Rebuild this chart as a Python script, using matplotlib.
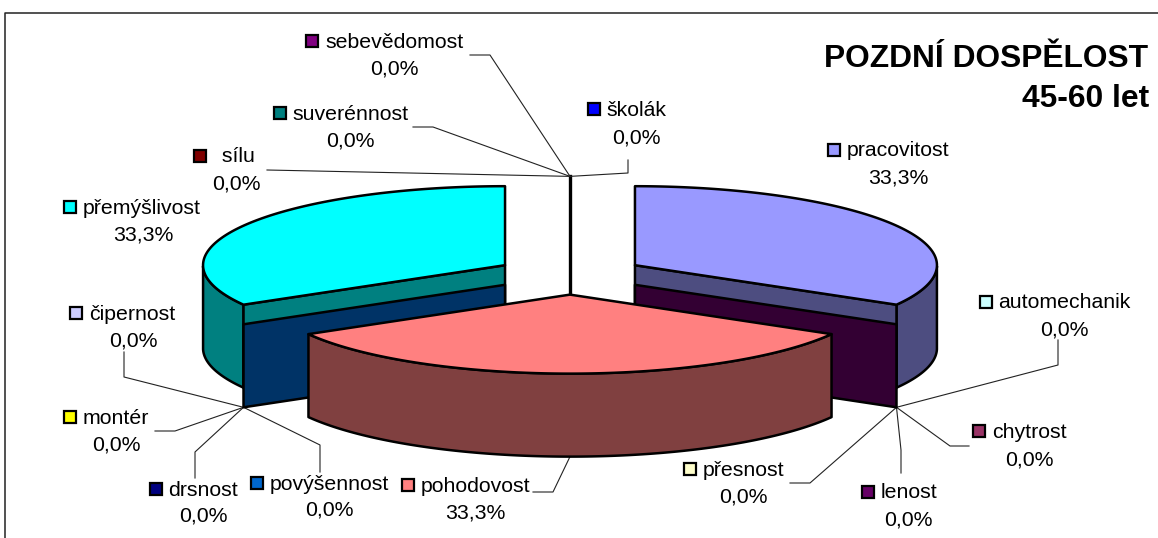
import numpy as np
import matplotlib
matplotlib.use("Agg")
import matplotlib.pyplot as plt
from matplotlib.colors import to_rgb
from matplotlib.patches import Rectangle

plt.rcParams['font.family'] = ['Liberation Sans', 'DejaVu Sans']

# data, clockwise from twelve o'clock
names = ["pracovitost", "automechanik", "chytrost", "lenost", "přesnost",
         "pohodovost", "povýšennost", "drsnost", "montér", "čipernost",
         "přemýšlivost", " sílu", "suverénnost", "sebevědomost", "školák"]
counts = [1, 0, 0, 0, 0, 1, 0, 0, 0, 0, 1, 0, 0, 0, 0]
pct_labels = ["33,3%", "0,0%", "0,0%", "0,0%", "0,0%",
              "33,3%", "0,0%", "0,0%", "0,0%", "0,0%",
              "33,3%", "0,0%", "0,0%", "0,0%", "0,0%"]
colors = ["#9999FF", "#CCFFFF", "#993366", "#660066", "#FFFFCC",
          "#FF8080", "#0066CC", "#000080", "#FFFF00", "#CCCCFF",
          "#00FFFF", "#800000", "#008080", "#800080", "#0000FF"]

# pie geometry in pixels
CX, CY = 570, 275
RX, RY = 302, 79
EXPLODE = 75
DEPTH = 83

# swatch x, name x, name y, percent x, percent y
label_pos = {
    "pracovitost": (834, 847, 151, 898, 178),
    "automechanik": (986, 998, 303, 1064, 330),
    "chytrost": (979, 992, 432, 1029, 460),
    "lenost": (868, 881, 493, 908, 520),
    "přesnost": (690, 703, 470, 743, 497),
    "pohodovost": (408, 421, 486, 475, 513),
    "povýšennost": (257, 270, 484, 329, 510),
    "drsnost": (156, 168, 490, 203, 516),
    "montér": (70, 83, 418, 116, 445),
    "čipernost": (76, 89, 314, 133, 341),
    "přemýšlivost": (70, 83, 208, 143, 235),
    " sílu": (200, 216, 157, 236, 184),
    "suverénnost": (280, 292, 114, 350, 141),
    "sebevědomost": (312, 325, 42, 394, 69),
    "školák": (594, 606, 110, 636, 138),
}

# leader lines, from the label towards the pie
leaders = {
    "automechanik": [(1058, 340), (1058, 365)],
    "chytrost": [(969, 446), (950, 446)],
    "lenost": [(901, 473), (901, 450)],
    "přesnost": [(790, 483), (810, 483)],
    "povýšennost": [(320, 472), (320, 445)],
    "drsnost": [(195, 478), (195, 452)],
    "montér": [(155, 431), (175, 431)],
    "čipernost": [(124, 352), (124, 377)],
    " sílu": [(267, 170)],
    "suverénnost": [(413, 127), (433, 127)],
    "sebevědomost": [(470, 55), (490, 55)],
    "školák": [(628, 160), (628, 173)],
}


def shade(c):
    return tuple(v * 0.5 for v in to_rgb(c))


def rim(a, ox, oy):
    a = np.radians(a)
    return ox + RX * np.sin(a), oy - RY * np.cos(a)


def offset(mid):
    a = np.radians(mid)
    return (CX + EXPLODE * np.sin(a),
            CY - EXPLODE * RY / RX * np.cos(a))


fig = plt.figure(figsize=(11.58, 5.38), dpi=100)
ax = fig.add_axes([0, 0, 1, 1])
ax.set_xlim(0, 1158)
ax.set_ylim(538, 0)
ax.axis('off')

# chart frame
ax.plot([5, 5, 1158], [538, 13, 13], color='#222222', lw=1.1, zorder=1)

total = sum(counts)
ends = np.cumsum(counts) / total * 360
starts = ends - np.array(counts) / total * 360
big = [i for i, v in enumerate(counts) if v > 0]

EDGE = dict(edgecolor='black', linewidth=1.8, joinstyle='round')


def hub(angle):
    ox, oy = offset(angle)
    x, y = rim(angle, ox, oy)
    return x, y + DEPTH


def radial_wall(angle, mid, color):
    ox, oy = offset(mid)
    x, y = rim(angle, ox, oy)
    ax.fill([ox, x, x, ox], [oy, y, y + DEPTH, oy + DEPTH],
            facecolor=color, zorder=3, **EDGE)


def draw_slice(i):
    s, e = starts[i], ends[i]
    mid = (s + e) / 2
    ox, oy = offset(mid)
    t = np.linspace(s, e, 120)
    x, y = rim(t, ox, oy)
    # outer wall, only where the rim faces the viewer
    vis = (t >= 90) & (t <= 270)
    if vis.any():
        ax.fill(np.r_[x[vis], x[vis][::-1]],
                np.r_[y[vis], y[vis][::-1] + DEPTH],
                facecolor=shade(colors[i]), zorder=3, **EDGE)
    # cut side, with the exploded empty slice in front of it
    if mid < 90:
        radial_wall(e, mid, shade(colors[i]))
        radial_wall(e, e, shade(colors[names.index("lenost")]))
    elif mid > 270:
        radial_wall(s, mid, shade(colors[i]))
        radial_wall(s, s, shade(colors[names.index("povýšennost")]))
    ax.fill(np.r_[ox, x], np.r_[oy, y], facecolor=colors[i], zorder=3, **EDGE)


# spoke of the empty slices at the back
ox, oy = offset(0)
bx, by = rim(0, ox, oy)
ax.plot([bx, bx], [by, offset(120)[1] + RY], color='black', lw=2.4, zorder=2)

for i in big[::-1]:
    if i != big[1]:
        draw_slice(i)

# front slice last, its wall is the closest thing
i = big[1]
s, e = starts[i], ends[i]
ox, oy = offset((s + e) / 2)
t = np.linspace(s, e, 160)
x, y = rim(t, ox, oy)
ax.fill(np.r_[x, x[::-1]], np.r_[y, y[::-1] + DEPTH],
        facecolor=shade(colors[i]), zorder=4, **EDGE)
ax.fill(np.r_[ox, x], np.r_[oy, y], facecolor=colors[i], zorder=4, **EDGE)
front_x, front_y = rim(180, ox, oy)

# where the leaders end
anchors = {}
for i, n in enumerate(names):
    if counts[i] == 0:
        a = round(starts[i])
        if a == 360 or a == 0:
            ox, oy = offset(0)
            anchors[n] = rim(0, ox, oy)
        else:
            anchors[n] = hub(a)

for n, pts in leaders.items():
    pts = pts + [anchors[n]]
    ax.plot([p[0] for p in pts], [p[1] for p in pts], color='#222222', lw=0.8, zorder=2)
ax.plot([533, 553, front_x], [492, 492, front_y + DEPTH], color='#222222', lw=0.8, zorder=2)

# labels
for i, n in enumerate(names):
    sx, tx, ty, px, py = label_pos[n]
    ax.add_patch(Rectangle((sx - 6, ty - 7), 12, 12, facecolor=colors[i],
                           edgecolor='black', linewidth=1.6, zorder=5))
    ax.text(tx, ty, n, fontsize=15.3, ha='left', va='center', color='black', zorder=5)
    ax.text(px, py, pct_labels[i], fontsize=15.3, ha='center', va='center', color='black', zorder=5)

ax.text(1148, 59, "POZDNÍ DOSPĚLOST", fontsize=22.9, fontweight='bold', ha='right', va='center')
ax.text(1149, 99, "45-60 let", fontsize=22.9, fontweight='bold', ha='right', va='center')

fig.savefig("out.png", dpi=100)
